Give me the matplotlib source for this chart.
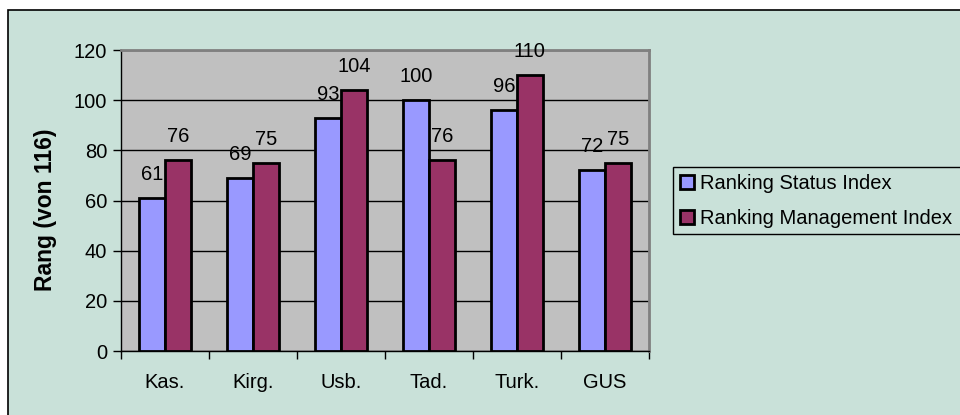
import numpy as np
import matplotlib.pyplot as plt
from matplotlib.patches import Rectangle

categories = ["Kas.", "Kirg.", "Usb.", "Tad.", "Turk.", "GUS"]
status_index = [61, 69, 93, 100, 96, 72]
management_index = [76, 75, 104, 76, 110, 75]
series_names = ["Ranking Status Index", "Ranking Management Index"]
y_ticks = [0, 20, 40, 60, 80, 100, 120]

mint = "#c9e1d9"
blue = "#9999ff"
maroon = "#993366"

plt.rcParams['font.family'] = ['Liberation Sans', 'DejaVu Sans']

W, H = 960, 415
fig = plt.figure(figsize=(W / 100, H / 100), dpi=100)
fig.patch.set_facecolor("white")

# Rahmen des Diagrammbereichs (rechts und unten abgeschnitten)
fig.add_artist(Rectangle((8 / W, -0.05), 1.0, 1 - 10 / H + 0.05,
                         transform=fig.transFigure, facecolor=mint,
                         edgecolor="black", linewidth=1.2, zorder=-10))

ax = fig.add_axes([121 / W, (H - 351) / H, (649 - 121) / W, (351 - 50) / H])
ax.set_facecolor("#c0c0c0")

x = np.arange(len(categories))
bw = 0.29
b1 = ax.bar(x - bw / 2, status_index, bw, color=blue, edgecolor="black",
            linewidth=2, label=series_names[0], zorder=3)
b2 = ax.bar(x + bw / 2, management_index, bw, color=maroon, edgecolor="black",
            linewidth=2, label=series_names[1], zorder=3)

for bars in (b1, b2):
    for rect in bars:
        h = rect.get_height()
        ax.annotate(f"{h:.0f}", (rect.get_x() + rect.get_width() / 2, h),
                    xytext=(0, 17), textcoords="offset points",
                    ha="center", va="center", fontsize=14.5, zorder=4)

ax.set_xlim(-0.5, len(categories) - 0.5)
ax.set_ylim(0, 120)
ax.set_yticks(y_ticks)
ax.yaxis.grid(True, color="black", linewidth=1, zorder=1)
ax.tick_params(axis="y", direction="out", length=6, width=1, labelsize=14.5, pad=4)

ax.set_xticks(x)
ax.set_xticklabels(categories, fontsize=14.5)
ax.set_xticks(np.arange(len(categories) + 1) - 0.5, minor=True)
ax.tick_params(axis="x", which="major", length=0, pad=16)
ax.tick_params(axis="x", which="minor", direction="out", length=6, width=1)

for side in ("top", "right"):
    ax.spines[side].set_color("#808080")
    ax.spines[side].set_linewidth(2)
for side in ("left", "bottom"):
    ax.spines[side].set_color("black")
    ax.spines[side].set_linewidth(1)

ax.set_ylabel("Rang (von 116)", fontsize=16.5, fontweight="bold")
ax.yaxis.set_label_coords(-0.121, 0.47)

# Legende: Rahmen läuft über den rechten Bildrand hinaus
fig.add_artist(Rectangle((673 / W, 1 - 234 / H), 0.4, 67 / H,
                         transform=fig.transFigure, facecolor=mint,
                         edgecolor="black", linewidth=1, zorder=5))
leg = fig.legend(handles=[b1, b2], loc="upper left",
                 bbox_to_anchor=(673 / W, 1 - 167 / H), fontsize=14.5,
                 frameon=False, handlelength=0.7,
                 handleheight=0.7, handletextpad=0.3, borderpad=0.35,
                 labelspacing=0.78, borderaxespad=0)
leg.set_zorder(6)

fig.savefig("out.png", dpi=100, facecolor=fig.get_facecolor())
